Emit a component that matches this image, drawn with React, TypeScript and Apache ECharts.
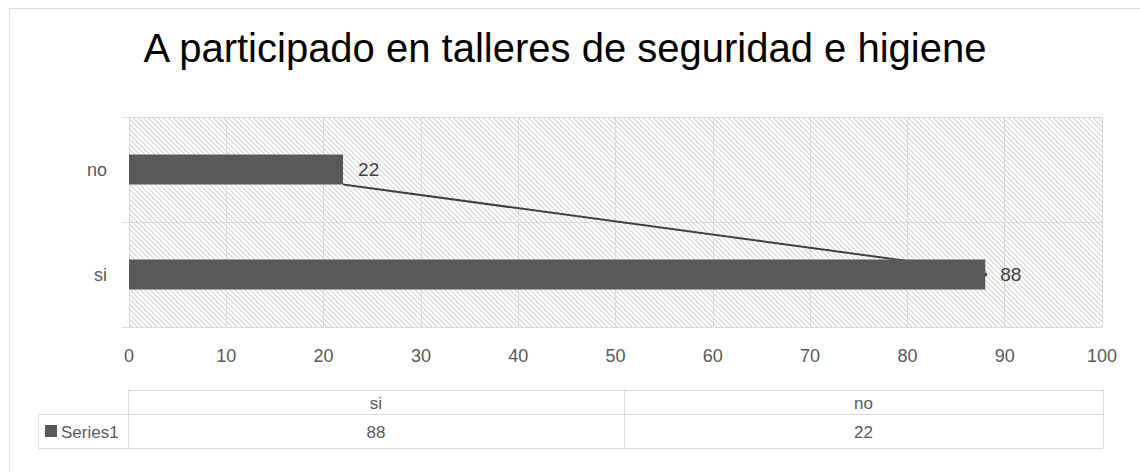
import React, { useEffect, useRef } from "react";
import * as echarts from "echarts";

const TITLE = "A participado en talleres de seguridad e higiene";
const categories = ["si", "no"];
const values = [88, 22];
const seriesName = "Series1";
const xTicks = { min: 0, max: 100, interval: 10 };

const FONT = "'Liberation Sans', Arial, sans-serif";

function makeHatch() {
  const n = 10;
  const c = document.createElement("canvas");
  c.width = n;
  c.height = n;
  const ctx = c.getContext("2d")!;
  ctx.fillStyle = "#ffffff";
  ctx.fillRect(0, 0, n, n);
  for (let y = 0; y < n; y++) {
    for (let x = 0; x < n; x++) {
      const d = (((x - y) % 5) + 5) % 5;
      if (d === 0) {
        ctx.fillStyle = "#d2d2d2";
        ctx.fillRect(x, y, 1, 1);
      } else if (d === 1) {
        ctx.fillStyle = "#ececec";
        ctx.fillRect(x, y, 1, 1);
      }
    }
  }
  return c;
}

export default function App() {
  const ref = useRef<HTMLDivElement>(null);
  useEffect(() => {
    document.body.style.margin = "0";
    const chart = echarts.init(ref.current!, null, { renderer: "svg" });
    const hatch = makeHatch();
    const gridLeft = 129;
    const gridRight = 1102;
    const gridTop = 117;
    const gridBottom = 327;
    const iNo = categories.indexOf("no");
    const iSi = categories.indexOf("si");

    // data table geometry
    const tTop = 390, tMid = 414, tBot = 448;
    const tLeft = 38, tColStart = 128, tDiv = 624, tRight = 1103;
    const line = (x1: number, y1: number, x2: number, y2: number) => ({
      type: "line",
      shape: { x1, y1, x2, y2 },
      style: { stroke: "#d9d9d9", lineWidth: 1 },
      silent: true,
    });
    const txt = (x: number, y: number, text: string, align = "center") => ({
      type: "text",
      x,
      y,
      style: {
        text,
        fill: "#595959",
        font: `17px ${FONT}`,
        textAlign: align,
        textVerticalAlign: "middle",
      },
    });
    const colCenters = [(tColStart + tDiv) / 2, (tDiv + tRight) / 2];

    const option: any = {
      animation: false,
      backgroundColor: "#ffffff",
      grid: {
        left: gridLeft,
        right: 1140 - gridRight,
        top: gridTop,
        bottom: 472 - gridBottom,
        show: true,
        borderWidth: 0,
        backgroundColor: {
          image: hatch,
          repeat: "repeat",
          imageWidth: 10,
          imageHeight: 10,
        },
      },
      xAxis: {
        type: "value",
        min: xTicks.min,
        max: xTicks.max,
        interval: xTicks.interval,
        axisLine: { show: false },
        axisTick: { show: false },
        splitLine: { show: true, lineStyle: { color: "#d9d9d9", width: 1 } },
        axisLabel: { color: "#595959", fontSize: 18, fontFamily: FONT, margin: 20 },
      },
      yAxis: {
        type: "category",
        data: categories,
        axisLine: { show: true, lineStyle: { color: "#d9d9d9", width: 1 } },
        axisTick: { show: true, length: 7, lineStyle: { color: "#d9d9d9" } },
        splitLine: { show: true, lineStyle: { color: "#d9d9d9", width: 1 } },
        axisLabel: { color: "#595959", fontSize: 18, fontFamily: FONT, margin: 22 },
      },
      series: [
        {
          type: "custom",
          z: 1,
          silent: true,
          data: [[values[iNo], iNo, values[iSi], iSi]],
          encode: { x: [0, 2], y: [1, 3] },
          renderItem: (params: any, api: any) => {
            const p1 = api.coord([api.value(0), api.value(1)]);
            const p2 = api.coord([api.value(2), api.value(3)]);
            return {
              type: "group",
              children: [
                {
                  type: "line",
                  shape: { x1: p1[0], y1: p1[1] + 15, x2: p2[0], y2: p2[1] - 3 },
                  style: { stroke: "#404040", lineWidth: 2 },
                },
                {
                  type: "circle",
                  shape: { cx: p2[0], cy: p2[1], r: 2 },
                  style: { fill: "#404040" },
                },
              ],
            };
          },
        },
        {
          type: "bar",
          name: seriesName,
          z: 3,
          data: values,
          barWidth: 30,
          itemStyle: { color: "#595959" },
          label: {
            show: true,
            position: "right",
            distance: 15,
            color: "#404040",
            fontSize: 19,
            fontFamily: FONT,
          },
        },
      ],
      graphic: [
        {
          type: "rect",
          shape: { x: 9.5, y: 8.5, width: 1300, height: 800 },
          style: { fill: "none", stroke: "#d9d9d9", lineWidth: 1 },
          silent: true,
          z: -10,
        },
        {
          type: "text",
          x: 565,
          y: 48,
          style: {
            text: TITLE,
            fill: "#000000",
            font: `40px ${FONT}`,
            textAlign: "center",
            textVerticalAlign: "middle",
          },
        },
        line(tColStart, tTop + 0.5, tRight, tTop + 0.5),
        line(tLeft, tMid + 0.5, tRight, tMid + 0.5),
        line(tLeft, tBot + 0.5, tRight, tBot + 0.5),
        line(tLeft + 0.5, tMid, tLeft + 0.5, tBot),
        line(tColStart + 0.5, tTop, tColStart + 0.5, tBot),
        line(tDiv + 0.5, tTop, tDiv + 0.5, tBot),
        line(tRight + 0.5, tTop, tRight + 0.5, tBot),
        ...categories.map((c, i) => txt(colCenters[i], (tTop + tMid) / 2 + 1, c)),
        ...values.map((v, i) => txt(colCenters[i], (tMid + tBot) / 2 + 1, String(v))),
        {
          type: "rect",
          shape: { x: 45, y: 425, width: 12, height: 12 },
          style: { fill: "#595959" },
        },
        txt(61, (tMid + tBot) / 2 + 1, seriesName, "left"),
      ],
    };
    chart.setOption(option);
    return () => chart.dispose();
  }, []);
  return <div ref={ref} style={{ width: 1140, height: 472 }} />;
}
